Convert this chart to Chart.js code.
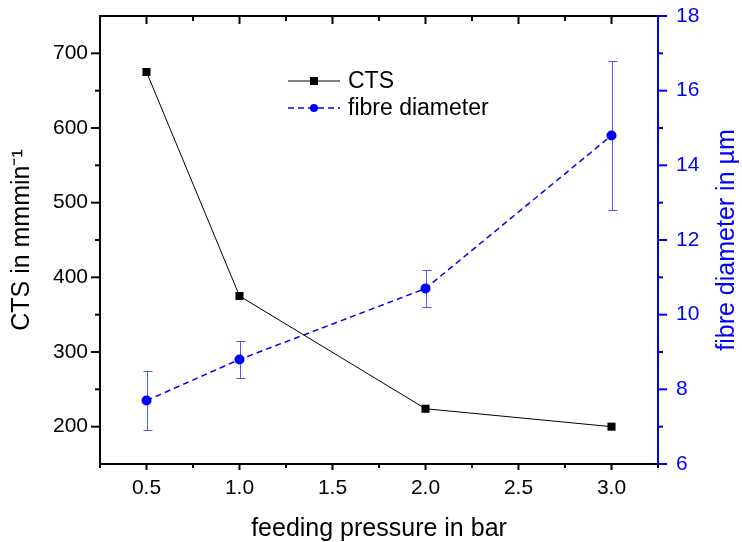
<!DOCTYPE html>
<html><head><meta charset="utf-8">
<script src="https://cdn.jsdelivr.net/npm/chart.js@4.4.1/dist/chart.umd.min.js"></script>
<style>html,body{margin:0;padding:0;background:#fff;} canvas{display:block;}</style>
</head><body>
<canvas id="c" width="742" height="542"></canvas>
<script>
// ---- data ----
const pressure = [0.5, 1.0, 2.0, 3.0];
const ctsValues = [675, 375, 224, 200];
const fibreValues = [7.7, 8.8, 10.7, 14.8];
const fibreErrors = [0.8, 0.5, 0.5, 2.0];
// ---- tick labels ----
const xMajorTicks = [0.5, 1.0, 1.5, 2.0, 2.5, 3.0];
const xMinorTicks = [0.25, 0.75, 1.25, 1.75, 2.25, 2.75, 3.25];
const yMajorTicks = [200, 300, 400, 500, 600, 700];
const yMinorTicks = [250, 350, 450, 550, 650];
const y2MajorTicks = [6, 8, 10, 12, 14, 16, 18];
const y2MinorTicks = [7, 9, 11, 13, 15, 17];
const rightTitle = 'fibre diameter in µm';

const FONT = "'Liberation Sans', Arial, sans-serif";
const BLUE = '#0000ff';

const axesPlugin = {
  id: 'axesPlugin',
  beforeDatasetsDraw(chart) {
    const ctx = chart.ctx, xs = chart.scales.x, ys = chart.scales.y2;
    ctx.save();
    ctx.strokeStyle = 'rgba(30,30,255,0.75)';
    ctx.lineWidth = 1;
    pressure.forEach((p, i) => {
      const px = Math.round(xs.getPixelForValue(p)) + 0.5;
      const t = Math.round(ys.getPixelForValue(fibreValues[i] + fibreErrors[i])) + 0.5;
      const b = Math.round(ys.getPixelForValue(fibreValues[i] - fibreErrors[i])) + 0.5;
      ctx.beginPath();
      ctx.moveTo(px, t); ctx.lineTo(px, b);
      ctx.moveTo(px - 4, t); ctx.lineTo(px + 5, t);
      ctx.moveTo(px - 4, b); ctx.lineTo(px + 5, b);
      ctx.stroke();
    });
    ctx.restore();
  },
  afterDraw(chart) {
    const ctx = chart.ctx, a = chart.chartArea;
    const xs = chart.scales.x, ys = chart.scales.y, y2 = chart.scales.y2;
    const L = a.left, R = a.right, T = a.top, B = a.bottom;
    ctx.save();
    ctx.lineWidth = 2;
    ctx.strokeStyle = '#000';
    const seg = (x1, y1, x2, y2_) => { ctx.beginPath(); ctx.moveTo(x1, y1); ctx.lineTo(x2, y2_); ctx.stroke(); };
    // frame (black)
    seg(L, T - 1, L, B + 1);
    seg(L - 1, T, R, T);
    seg(L - 1, B, R, B);
    // left ticks
    yMajorTicks.forEach(v => { const y = ys.getPixelForValue(v); seg(L - 9, y, L, y); });
    yMinorTicks.forEach(v => { const y = ys.getPixelForValue(v); seg(L - 5, y, L, y); });
    // bottom & top ticks
    xMajorTicks.forEach(v => { const x = xs.getPixelForValue(v); seg(x, B, x, B + 6); seg(x, T, x, T + 8); });
    xMinorTicks.forEach(v => { const x = xs.getPixelForValue(v); seg(x, B, x, B + 4); seg(x, T, x, T + 5); });
    // right axis (blue)
    ctx.strokeStyle = BLUE;
    seg(R, T - 1, R, B + 1);
    y2MajorTicks.forEach(v => { const y = y2.getPixelForValue(v); seg(R, y, R + 9, y); });
    y2MinorTicks.forEach(v => { const y = y2.getPixelForValue(v); seg(R, y, R + 5, y); });
    // right axis title (reads bottom to top)
    ctx.save();
    ctx.translate(727, (T + B) / 2);
    ctx.rotate(-Math.PI / 2);
    ctx.fillStyle = BLUE;
    ctx.font = '25px ' + FONT;
    ctx.textAlign = 'center';
    ctx.textBaseline = 'middle';
    ctx.fillText(rightTitle, 0, 0);
    ctx.restore();
    // legend
    const rows = [81, 108];
    chart.data.datasets.forEach((ds, i) => {
      const y = rows[i];
      ctx.strokeStyle = ds.borderColor;
      ctx.lineWidth = ds.borderWidth;
      ctx.setLineDash(ds.borderDash || []);
      seg(288, y, 340, y);
      ctx.setLineDash([]);
      ctx.fillStyle = ds.pointBackgroundColor;
      if (ds.pointStyle === 'rect') {
        ctx.fillRect(310, y - 4, 8, 8);
      } else {
        ctx.beginPath(); ctx.arc(314, y, 4, 0, Math.PI * 2); ctx.fill();
      }
      ctx.fillStyle = '#000';
      ctx.font = '23px ' + FONT;
      ctx.textAlign = 'left';
      ctx.textBaseline = 'middle';
      ctx.fillText(ds.label, 348, y + 1);
    });
    ctx.restore();
  }
};

const ctsData = pressure.map((p, i) => ({ x: p, y: ctsValues[i] }));
const fibreData = pressure.map((p, i) => ({ x: p, y: fibreValues[i] }));

const noPad = s => { s.paddingTop = 0; s.paddingBottom = 0; s.paddingLeft = 0; s.paddingRight = 0; };

new Chart(document.getElementById('c'), {
  type: 'line',
  data: {
    datasets: [
      {
        label: 'CTS', data: ctsData, yAxisID: 'y',
        borderColor: '#000', borderWidth: 1,
        pointStyle: 'rect', pointRadius: 5.7, pointBorderWidth: 0,
        pointBackgroundColor: '#000', pointBorderColor: '#000',
        tension: 0, fill: false
      },
      {
        label: 'fibre diameter', data: fibreData, yAxisID: 'y2',
        borderColor: BLUE, borderWidth: 1.5, borderDash: [6, 4],
        pointStyle: 'circle', pointRadius: 5, pointBorderWidth: 0,
        pointBackgroundColor: BLUE, pointBorderColor: BLUE,
        tension: 0, fill: false
      }
    ]
  },
  options: {
    responsive: false,
    animation: false,
    layout: { autoPadding: false, padding: { top: 16, left: 0, right: 0, bottom: 0 } },
    plugins: { legend: { display: false }, tooltip: { enabled: false } },
    scales: {
      x: {
        type: 'linear', position: 'bottom', min: 0.25, max: 3.25,
        afterBuildTicks: s => { s.ticks = xMajorTicks.map(v => ({ value: v })); },
        afterFit: s => { s.height = 78; noPad(s); },
        ticks: { callback: v => Number(v).toFixed(1), color: '#000', font: { family: FONT, size: 21 }, padding: 12, maxRotation: 0, autoSkip: false },
        grid: { display: false, drawTicks: false },
        border: { display: false },
        title: { display: true, text: 'feeding pressure in bar', color: '#000', font: { family: FONT, size: 25 }, padding: { top: 0, bottom: -2 } }
      },
      y: {
        type: 'linear', position: 'left', min: 150, max: 750,
        afterBuildTicks: s => { s.ticks = yMajorTicks.map(v => ({ value: v })); },
        afterFit: s => { s.width = 100; noPad(s); },
        ticks: { color: '#000', font: { family: FONT, size: 21 }, padding: 12 },
        grid: { display: false, drawTicks: false },
        border: { display: false },
        title: { display: true, text: 'CTS in mmmin⁻¹', color: '#000', font: { family: FONT, size: 25 }, padding: { top: 7, bottom: 0 } }
      },
      y2: {
        type: 'linear', position: 'right', min: 6, max: 18,
        afterBuildTicks: s => { s.ticks = y2MajorTicks.map(v => ({ value: v })); },
        afterFit: s => { s.width = 84; noPad(s); },
        ticks: { color: BLUE, font: { family: FONT, size: 21 }, padding: 18 },
        grid: { display: false, drawTicks: false },
        border: { display: false },
        title: { display: false }
      }
    }
  },
  plugins: [axesPlugin]
});
</script>
</body></html>
